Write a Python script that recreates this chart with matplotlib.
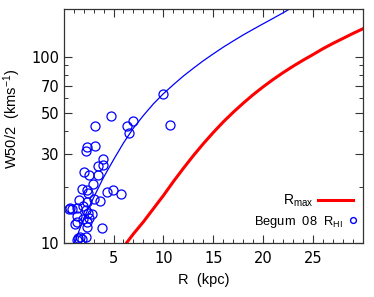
import numpy as np
import matplotlib
matplotlib.use("Agg")
import matplotlib.pyplot as plt
from matplotlib.lines import Line2D
from matplotlib.ticker import FixedLocator, FixedFormatter, NullFormatter, MultipleLocator

plt.rcParams["font.family"] = ["Liberation Sans", "DejaVu Sans"]
plt.rcParams["mathtext.fontset"] = "custom"
plt.rcParams["mathtext.rm"] = "Liberation Sans"
plt.rcParams["mathtext.it"] = "Liberation Sans:italic"

# Begum 08 HI radii vs W50/2
r_hi = [9.95, 10.65, 4.75, 3.15, 6.35, 6.95, 6.55, 3.15, 2.38, 2.25,
        3.98, 3.98, 3.42, 2.05, 2.55, 3.42, 2.92, 1.82, 2.38, 2.48,
        4.32, 4.98, 5.72, 3.65, 3.08, 1.58, 2.32, 1.92, 0.65, 0.52,
        0.82, 1.32, 2.25, 2.82, 2.48, 1.38, 1.92, 2.58, 1.32, 1.15,
        2.32, 2.38, 3.82, 1.65, 2.22, 1.42, 1.82, 1.32]
w50_hi = [63.2, 43.1, 48.2, 42.6, 42.6, 45.3, 39.2, 33.4, 32.7, 31.4,
          28.3, 26.3, 26.0, 24.2, 23.1, 23.3, 20.7, 19.6, 19.3, 18.6,
          18.7, 19.3, 18.3, 16.8, 17.2, 17.0, 16.7, 15.8, 15.4, 15.3,
          15.2, 15.4, 15.0, 14.3, 14.5, 14.0, 13.5, 13.7, 12.9, 12.6,
          13.0, 12.2, 12.0, 10.8, 10.7, 10.6, 10.5, 10.4]

# model curve through the HI points (blue)
r_blue = [1.1, 2, 3, 4, 5, 6, 7, 8, 9, 10, 11, 12, 13, 14, 15, 16,
          17, 18, 19, 20, 21, 22, 23, 24]
w_blue = [10.0, 13.5, 17.5, 22.5, 28.0, 34.5, 41.5, 48.5, 56.0, 63.5,
          71.0, 79.0, 87.0, 95.5, 104.0, 113.0, 122.0, 131.5, 141.0,
          151.0, 161.5, 173.0, 186.0, 198.0]

# R_max curve (red)
r_max = [6.3, 7, 8, 9, 10, 11, 12, 13, 14, 15, 16, 17, 18, 19, 20,
         21, 22, 23, 24, 25, 26, 27, 28, 29, 30, 31]
w_max = [10.0, 11.2, 13.0, 15.3, 18.0, 21.4, 25.2, 29.5, 34.2, 39.3,
         44.8, 50.5, 56.5, 62.8, 69.2, 75.8, 82.5, 89.3, 96.2, 103.2,
         111.0, 118.5, 126.0, 134.0, 142.0, 150.0]

x_ticks = [5, 10, 15, 20, 25]
y_ticks = [10, 30, 50, 70, 100]
y_minor = [20, 40, 60, 80, 90]

fig = plt.figure(figsize=(3.74, 2.97), dpi=100)
ax = fig.add_axes([0.170, 0.182, 0.801, 0.789])

ax.plot(r_blue, w_blue, color="blue", lw=0.9)
ax.plot(r_max, w_max, color="red", lw=2.2)
ax.plot(r_hi, w50_hi, ls="none", marker="o", ms=6.5, mfc="none", mec="blue", mew=0.9)

ax.set_yscale("log")
ax.set_xlim(0, 30)
ax.set_ylim(10, 182)
ax.xaxis.set_major_locator(FixedLocator(x_ticks))
ax.xaxis.set_minor_locator(MultipleLocator(1))
ax.yaxis.set_major_locator(FixedLocator(y_ticks))
ax.yaxis.set_minor_locator(FixedLocator(y_minor))
ax.yaxis.set_major_formatter(FixedFormatter([str(v) for v in y_ticks]))
ax.yaxis.set_minor_formatter(NullFormatter())

ax.tick_params(which="both", direction="in", top=True, right=True, color="#333333")
ax.tick_params(which="major", length=5.5, width=0.8, labelsize=10.5)
ax.tick_params(which="minor", length=3, width=0.7)
ax.tick_params(axis="x", pad=6)
ax.tick_params(axis="y", pad=3)
for lab in ax.get_xticklabels() + ax.get_yticklabels():
    lab.set_family("DejaVu Sans")
for s in ax.spines.values():
    s.set_color("#333333")
    s.set_linewidth(0.9)

ax.set_xlabel("R  (kpc)", fontsize=10.5)
ax.set_ylabel("W50/2  (kms$^{-1}$)", fontsize=10.5)
ax.xaxis.set_label_coords(0.469, -0.13)
ax.yaxis.set_label_coords(-0.135, 0.53)

leg1 = ax.legend(handles=[Line2D([], [], color="red", lw=2.2)], labels=["R$_{\\mathrm{max}}$"],
                 loc="center right", bbox_to_anchor=(0.9666, 0.18), frameon=False,
                 markerfirst=False, handlelength=2.5, handletextpad=0.36,
                 borderpad=0, borderaxespad=0, fontsize=10)
ax.add_artist(leg1)
ax.legend(handles=[Line2D([], [], ls="none", marker="o", ms=4.2, mfc="none", mec="blue", mew=1.0)],
          labels=["Begum  08  R$_{\\mathrm{HI}}$"],
          loc="center right", bbox_to_anchor=(0.976, 0.09), frameon=False,
          markerfirst=False, handlelength=0.5, handletextpad=0.5,
          borderpad=0, borderaxespad=0, fontsize=9.3)

fig.savefig("out.png", dpi=100)
